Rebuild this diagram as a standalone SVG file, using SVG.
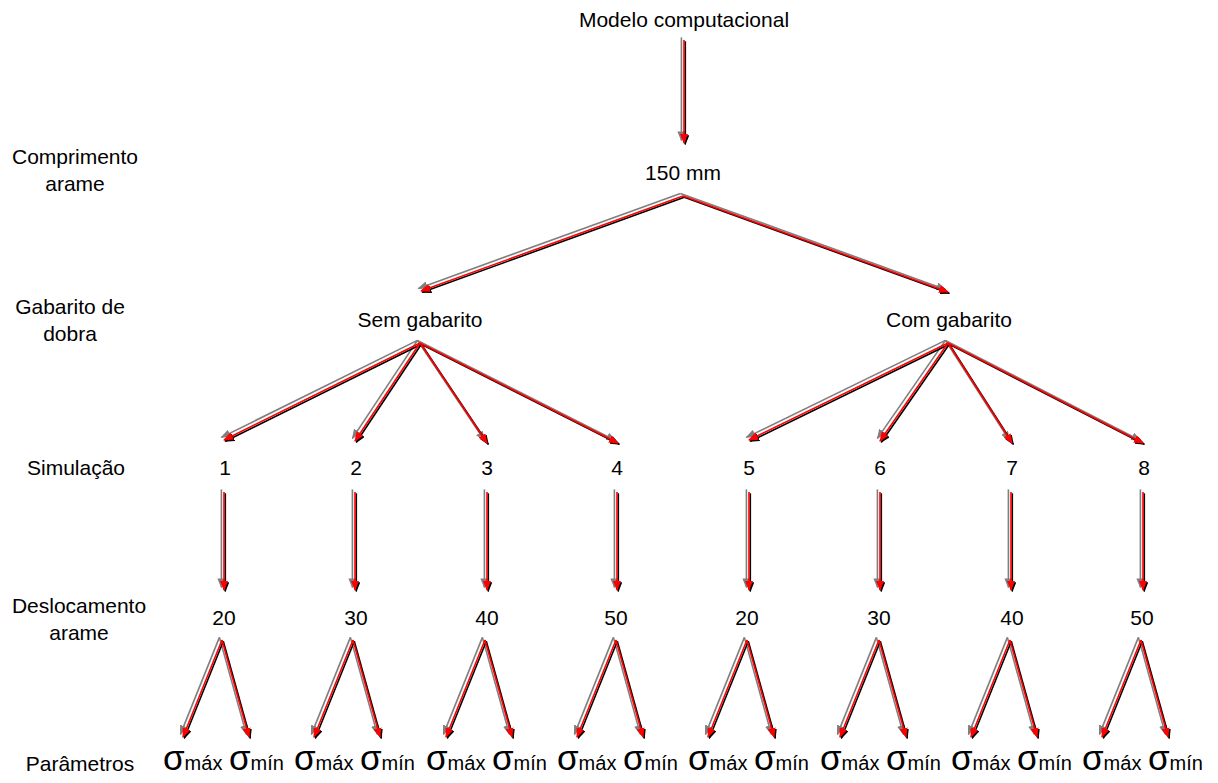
<svg xmlns="http://www.w3.org/2000/svg" xmlns:xlink="http://www.w3.org/1999/xlink" width="1218" height="783" viewBox="0 0 1218 783">
<style>
text{font-family:"Liberation Sans",Arial,sans-serif;font-size:21px;fill:#000}
.c{text-anchor:middle}
.sg{font-size:35px}
.sb{font-size:20px}
</style>
<defs>
<marker id="hr" markerUnits="userSpaceOnUse" markerWidth="10" markerHeight="8" refX="9" refY="4" orient="auto" viewBox="0 0 10 8"><path d="M0,0 L10,4 L0,8 z" fill="#ff0000"/></marker>
<marker id="hg" markerUnits="userSpaceOnUse" markerWidth="10" markerHeight="8" refX="9" refY="4" orient="auto" viewBox="0 0 10 8"><path d="M0,0 L10,4 L0,8 z" fill="#7f7f7f"/></marker>
<marker id="hb" markerUnits="userSpaceOnUse" markerWidth="10" markerHeight="8" refX="9" refY="4" orient="auto" viewBox="0 0 10 8"><path d="M0,0 L10,4 L0,8 z" fill="#000"/></marker>
</defs>
<rect width="1218" height="783" fill="#fff"/>

<g id="connectors" fill="none">
<use xlink:href="#arrowpaths" href="#arrowpaths" stroke="#7f7f7f" stroke-width="1.6" marker-end="url(#hg)" transform="translate(-2.6,-2.6)"/>
<use xlink:href="#arrowpaths" href="#arrowpaths" stroke="#000" stroke-width="1.6" marker-end="url(#hb)" transform="translate(1.3,1.3)"/>
<g stroke="#ff0000" stroke-width="1.6" marker-end="url(#hr)">
<g id="arrowpaths">
<path d="M684,40 L684,143"/>
<path d="M683,196 L421,291"/>
<path d="M683,196 L948,292"/>
<path d="M420,343 L224,440"/>
<path d="M420,343 L355,441"/>
<path d="M420,343 L487,443"/>
<path d="M420,343 L618,443"/>
<path d="M948,343 L749,440"/>
<path d="M948,343 L880,441"/>
<path d="M948,343 L1012,443"/>
<path d="M948,343 L1143,443"/>
<path d="M224,492 L224,590"/>
<path d="M355,492 L355,590"/>
<path d="M487,492 L487,590"/>
<path d="M617,492 L617,590"/>
<path d="M749,492 L749,590"/>
<path d="M880,492 L880,590"/>
<path d="M1011,492 L1011,590"/>
<path d="M1143,492 L1143,590"/>
<path d="M222,640 L183,737"/><path d="M222,640 L249,737"/>
<path d="M353,640 L314,737"/><path d="M353,640 L380,737"/>
<path d="M485,640 L446,737"/><path d="M485,640 L512,737"/>
<path d="M616,640 L577,737"/><path d="M616,640 L643,737"/>
<path d="M747,640 L708,737"/><path d="M747,640 L774,737"/>
<path d="M879,640 L840,737"/><path d="M879,640 L906,737"/>
<path d="M1010,640 L971,737"/><path d="M1010,640 L1037,737"/>
<path d="M1141,640 L1102,737"/><path d="M1141,640 L1168,737"/>
</g>
</g>
</g>

<g id="lbl-comprimento"><text class="c" x="75" y="164">Comprimento</text><text class="c" x="75" y="191">arame</text></g>
<g id="lbl-gabarito"><text class="c" x="70" y="314">Gabarito de</text><text class="c" x="70" y="341">dobra</text></g>
<g id="lbl-simulacao"><text class="c" x="76" y="475">Simulação</text></g>
<g id="lbl-deslocamento"><text class="c" x="79" y="613">Deslocamento</text><text class="c" x="79" y="640">arame</text></g>
<g id="lbl-parametros"><text class="c" x="80" y="771">Parâmetros</text></g>

<g id="n-modelo"><text class="c" x="684" y="27">Modelo computacional</text></g>
<g id="n-150"><text class="c" x="683" y="180">150 mm</text></g>
<g id="n-sem"><text class="c" x="420" y="327">Sem gabarito</text></g>
<g id="n-com"><text class="c" x="949" y="327">Com gabarito</text></g>

<g id="n-s1"><text class="c" x="225" y="475">1</text></g>
<g id="n-s2"><text class="c" x="356" y="475">2</text></g>
<g id="n-s3"><text class="c" x="487" y="475">3</text></g>
<g id="n-s4"><text class="c" x="617" y="475">4</text></g>
<g id="n-s5"><text class="c" x="749" y="475">5</text></g>
<g id="n-s6"><text class="c" x="880" y="475">6</text></g>
<g id="n-s7"><text class="c" x="1012" y="475">7</text></g>
<g id="n-s8"><text class="c" x="1144" y="475">8</text></g>

<g id="n-d1"><text class="c" x="224" y="625">20</text></g>
<g id="n-d2"><text class="c" x="356" y="625">30</text></g>
<g id="n-d3"><text class="c" x="487" y="625">40</text></g>
<g id="n-d4"><text class="c" x="616" y="625">50</text></g>
<g id="n-d5"><text class="c" x="747" y="625">20</text></g>
<g id="n-d6"><text class="c" x="879" y="625">30</text></g>
<g id="n-d7"><text class="c" x="1012" y="625">40</text></g>
<g id="n-d8"><text class="c" x="1142" y="625">50</text></g>

<g id="n-p1a"><text x="163" y="770"><tspan class="sg">σ</tspan><tspan class="sb">máx</tspan></text></g>
<g id="n-p1b"><text x="229" y="770"><tspan class="sg">σ</tspan><tspan class="sb">mín</tspan></text></g>
<g id="n-p2a"><text x="294" y="770"><tspan class="sg">σ</tspan><tspan class="sb">máx</tspan></text></g>
<g id="n-p2b"><text x="360" y="770"><tspan class="sg">σ</tspan><tspan class="sb">mín</tspan></text></g>
<g id="n-p3a"><text x="426" y="770"><tspan class="sg">σ</tspan><tspan class="sb">máx</tspan></text></g>
<g id="n-p3b"><text x="492" y="770"><tspan class="sg">σ</tspan><tspan class="sb">mín</tspan></text></g>
<g id="n-p4a"><text x="557" y="770"><tspan class="sg">σ</tspan><tspan class="sb">máx</tspan></text></g>
<g id="n-p4b"><text x="623" y="770"><tspan class="sg">σ</tspan><tspan class="sb">mín</tspan></text></g>
<g id="n-p5a"><text x="688" y="770"><tspan class="sg">σ</tspan><tspan class="sb">máx</tspan></text></g>
<g id="n-p5b"><text x="754" y="770"><tspan class="sg">σ</tspan><tspan class="sb">mín</tspan></text></g>
<g id="n-p6a"><text x="820" y="770"><tspan class="sg">σ</tspan><tspan class="sb">máx</tspan></text></g>
<g id="n-p6b"><text x="886" y="770"><tspan class="sg">σ</tspan><tspan class="sb">mín</tspan></text></g>
<g id="n-p7a"><text x="951" y="770"><tspan class="sg">σ</tspan><tspan class="sb">máx</tspan></text></g>
<g id="n-p7b"><text x="1017" y="770"><tspan class="sg">σ</tspan><tspan class="sb">mín</tspan></text></g>
<g id="n-p8a"><text x="1082" y="770"><tspan class="sg">σ</tspan><tspan class="sb">máx</tspan></text></g>
<g id="n-p8b"><text x="1148" y="770"><tspan class="sg">σ</tspan><tspan class="sb">mín</tspan></text></g>
</svg>
